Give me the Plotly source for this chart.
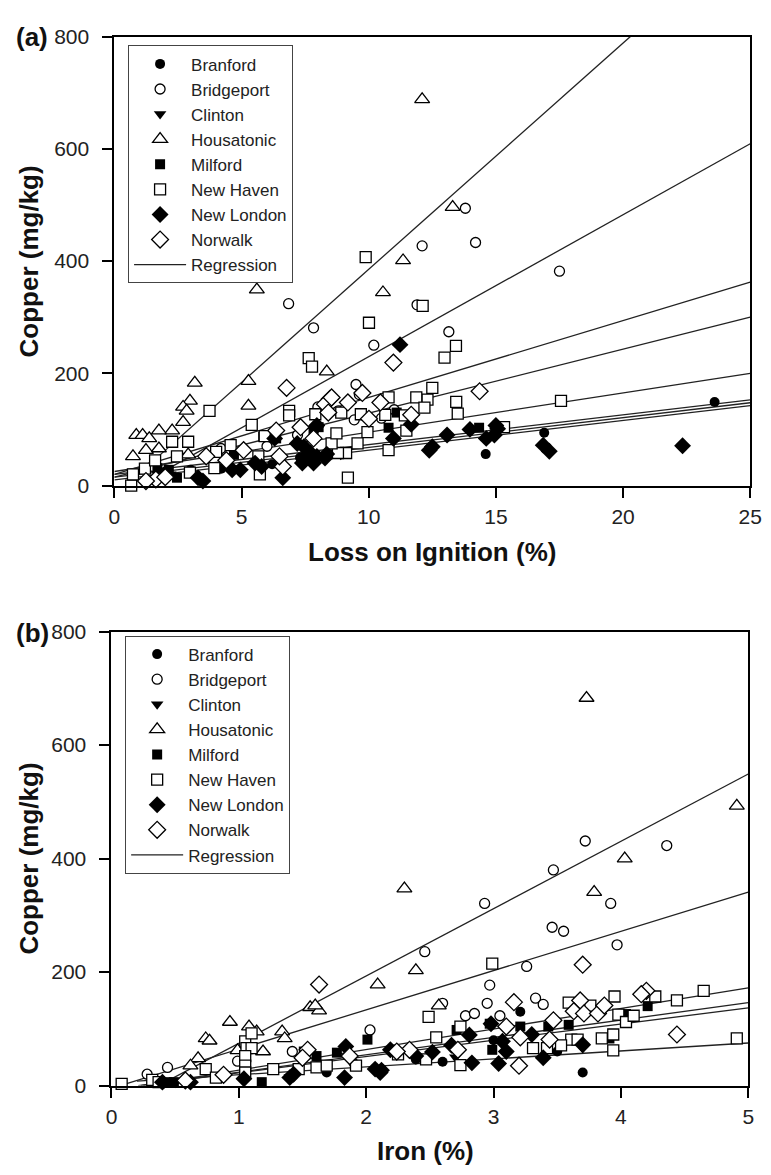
import plotly.graph_objects as go

W, H = 771, 1175

stations = ["Branford", "Bridgeport", "Clinton", "Housatonic", "Milford",
            "New Haven", "New London", "Norwalk"]

# ---- Panel (a): Loss on Ignition (%) vs Copper (mg/kg) ----
a_branford = [(23.6,149),(16.9,94),(14.6,56),(7.3,50),(4.2,30),(2.0,25),(5.7,45),(8.5,55),(3.0,28),(6.2,38)]
a_bridgeport = [(13.8,494),(12.1,427),(14.2,433),(17.5,382),(6.85,324),(7.83,281),(10.2,250),(13.15,274),
                (9.5,180),(8.8,133),(9.43,117),(9.63,162),(11.9,322),(4.19,66),(1.5,34),(8.0,140),(7.2,90),
                (6.0,70),(10.5,120),(11.0,135)]
a_clinton = [(11.0,82),(6.5,45),(2.2,20),(8.9,55)]
a_housatonic = [(12.1,688),(13.3,496),(11.35,401),(10.56,344),(5.6,349),(5.27,186),(5.27,142),(8.35,203),
                (3.16,183),(2.97,151),(2.7,140),(2.84,133),(2.7,113),(2.27,98),(1.75,98),(0.86,90),(1.11,90),
                (1.37,84),(1.24,63),(1.75,66),(0.73,52),(2.9,55)]
a_milford = [(10.78,103),(11.1,130),(14.34,103),(5.85,87),(6.36,84),(4.7,55),(1.69,31),(2.14,28),(2.46,14),
             (8.03,104),(7.83,93)]
a_newhaven = [(9.88,407),(10.01,290),(3.74,133),(7.64,227),(7.77,212),(6.87,133),(6.87,125),(5.4,108),(2.9,78),
              (2.27,78),(2.46,52),(4.57,72),(5.91,88),(5.66,52),(3.93,31),(2.97,23),(5.72,20),(0.66,0),(0.73,20),
              (9.18,14),(7.9,127),(8.92,130),(9.69,127),(9.95,95),(9.11,58),(8.79,58),(10.65,126),(10.78,63),
              (9.56,75),(8.54,75),(8.73,93),(12.12,320),(12.98,228),(13.43,249),(13.44,149),(13.5,128),(12.5,174),
              (12.31,153),(11.87,157),(12.19,139),(11.42,125),(11.48,98),(17.56,151),(15.32,104),(10.78,157),
              (1.2,30),(1.6,45),(4.0,60)]
a_newlondon = [(11.23,251),(12.38,63),(12.5,69),(13.08,90),(13.98,100),(14.62,84),(15.0,107),(14.94,90),
               (15.07,101),(16.86,72),(17.1,61),(22.34,71),(11.67,109),(10.97,84),(3.48,8),(3.29,14),(4.63,28),
               (4.95,28),(6.62,14),(5.53,40),(5.79,34),(7.45,46),(7.71,58),(7.96,52),(7.19,75),(7.45,69),
               (7.96,107),(6.3,84),(7.39,40),(7.83,40),(8.28,49),(8.35,56),(7.9,104)]
a_norwalk = [(10.97,219),(14.36,168),(11.67,126),(9.75,165),(8.47,154),(8.28,145),(9.18,148),(10.46,148),
             (10.01,119),(8.41,130),(6.77,174),(6.36,98),(7.32,104),(5.08,63),(3.61,52),(1.63,11),(1.24,8),
             (6.62,34),(6.49,52),(7.83,84),(8.54,157),(2.0,15),(4.4,45)]

# regression lines (intercept, slope, x start, x end)
a_regressions = [(-17.7, 40.3, 0.8, 25), (-23.5, 25.3, 1.5, 25), (20, 13.7, 0, 25), (15, 11.4, 0, 25),
                 (25, 7.0, 0, 25), (20, 5.3, 0, 25), (15, 5.3, 0, 25), (10, 5.3, 0, 25)]

# ---- Panel (b): Iron (%) vs Copper (mg/kg) ----
b_branford = [(3.7,23),(3.21,130),(2.39,46),(2.12,29),(1.69,23),(2.6,42),(1.9,40),(3.0,80),(3.5,60)]
b_bridgeport = [(3.47,380),(3.72,431),(4.36,423),(2.93,321),(3.92,321),(3.46,279),(3.55,272),(3.97,248),
                (2.46,236),(3.26,210),(2.97,177),(2.6,145),(2.95,145),(2.78,123),(2.85,127),(3.33,154),
                (3.39,143),(3.05,123),(1.42,60),(0.44,32),(0.28,20),(0.99,43),(2.03,98)]
b_clinton = [(3.7,66),(1.4,15),(2.7,50),(0.5,5)]
b_housatonic = [(3.73,683),(4.91,493),(4.03,400),(2.3,347),(3.79,341),(2.39,203),(2.09,178),(2.57,141),
                (0.93,112),(1.08,104),(1.14,95),(1.34,95),(1.36,83),(0.74,83),(0.77,79),(0.99,62),(1.19,60),
                (0.68,48),(0.62,35),(1.56,138),(1.63,132),(1.6,141)]
b_milford = [(4.21,140),(4.04,126),(3.91,83),(3.59,107),(3.43,104),(3.21,104),(2.97,109),(2.99,63),(2.71,98),
             (2.01,81),(1.61,52),(1.77,58),(0.44,6),(0.49,6),(1.18,6),(1.51,60)]
b_newhaven = [(2.99,215),(2.49,121),(4.65,167),(4.44,150),(4.27,157),(3.95,157),(3.59,146),(3.76,141),
              (3.98,125),(4.04,112),(4.1,123),(4.91,83),(3.94,90),(3.85,83),(3.94,62),(3.61,81),(3.66,81),
              (3.53,71),(3.31,66),(3.42,66),(2.74,36),(2.74,104),(2.55,85),(2.47,46),(2.25,55),(0.08,3),
              (0.32,10),(0.37,6),(0.74,29),(1.05,78),(1.06,66),(1.1,66),(1.05,52),(1.05,35),(1.05,23),
              (1.27,29),(1.61,32),(1.69,35),(1.92,35),(0.82,14),(1.1,92),(1.47,29)]
b_newlondon = [(2.12,27),(2.19,63),(2.39,52),(2.52,59),(2.67,71),(2.83,40),(2.81,89),(3.04,39),(3.1,60),
               (2.98,109),(3.3,90),(3.39,49),(3.7,72),(3.07,78),(2.07,29),(2.11,23),(1.84,69),(1.83,14),
               (1.4,14),(1.43,20),(1.04,12),(0.62,6),(0.40,6)]
b_norwalk = [(3.7,213),(4.2,167),(4.16,161),(4.44,90),(3.68,150),(3.63,131),(3.71,127),(3.82,127),(3.87,141),
             (3.16,147),(3.21,85),(3.2,35),(3.1,104),(3.44,81),(3.47,115),(2.34,63),(2.24,60),(2.72,63),
             (1.63,178),(1.54,63),(1.5,49),(0.88,19),(0.58,9),(1.87,52)]

b_regressions = [(-44, 118.6, 0.37, 5), (-5, 69.2, 0.1, 5), (-9, 36.2, 0.25, 5), (-7, 30.6, 0.23, 5),
                 (-6, 28.6, 0.21, 5), (5, 14.0, 0.2, 5)]

a_xticks = [0, 5, 10, 15, 20, 25]
b_xticks = [0, 1, 2, 3, 4, 5]
yticks = [0, 200, 400, 600, 800]

# ---- styling ----
styles = {
    "Branford":   dict(symbol="circle", color="black", size=10, lw=0),
    "Bridgeport": dict(symbol="circle", color="white", size=10, lw=1.3),
    "Clinton":    dict(symbol="triangle-down", color="black", size=11, lw=0),
    "Housatonic": dict(symbol="triangle-up", color="white", size=13, lw=1.3),
    "Milford":    dict(symbol="square", color="black", size=10, lw=0),
    "New Haven":  dict(symbol="square", color="white", size=11, lw=1.3),
    "New London": dict(symbol="diamond", color="black", size=13, lw=0),
    "Norwalk":    dict(symbol="diamond", color="white", size=13, lw=1.3),
}
FONT = "Liberation Sans, Arial, sans-serif"

fig = go.Figure()


def add_panel(data, regs, xa, ya, legend):
    for k, (b0, m, x0, x1) in enumerate(regs):
        # clip the line end at the top of the axis (y = 800)
        xe = min(x1, (800 - b0) / m)
        xs = [x0, xe]
        fig.add_trace(go.Scatter(
            x=xs, y=[b0 + m * v for v in xs], mode="lines",
            line=dict(color="#222", width=1.3), name="Regression",
            showlegend=(k == 0), legend=legend, legendrank=20,
            xaxis=xa, yaxis=ya, hoverinfo="skip"))
    for i, (name, pts) in enumerate(zip(stations, data)):
        s = styles[name]
        fig.add_trace(go.Scatter(
            x=[p[0] for p in pts], y=[p[1] for p in pts], mode="markers", name=name,
            marker=dict(symbol=s["symbol"], color=s["color"], size=s["size"],
                        line=dict(color="black", width=s["lw"])),
            legend=legend, legendrank=i + 1, cliponaxis=False, xaxis=xa, yaxis=ya))


add_panel([a_branford, a_bridgeport, a_clinton, a_housatonic, a_milford, a_newhaven, a_newlondon, a_norwalk],
          a_regressions, "x", "y", "legend")
add_panel([b_branford, b_bridgeport, b_clinton, b_housatonic, b_milford, b_newhaven, b_newlondon, b_norwalk],
          b_regressions, "x2", "y2", "legend2")

axis_common = dict(showline=True, linecolor="black", linewidth=2, mirror=True, ticks="outside",
                   ticklen=10, tickwidth=2, tickcolor="black", showgrid=False, zeroline=False,
                   tickfont=dict(family=FONT, size=21, color="#222"))
xax = dict(axis_common, ticklabelstandoff=1)
yax = dict(axis_common, ticklabelstandoff=9)

leg_common = dict(xanchor="left", yanchor="top", bgcolor="white", bordercolor="#444", borderwidth=1,
                  itemwidth=52, tracegroupgap=0, entrywidth=172,
                  font=dict(family=FONT, size=17, color="#222"))

fig.update_layout(
    width=W, height=H, margin=dict(l=0, r=0, t=0, b=0),
    paper_bgcolor="white", plot_bgcolor="white",
    xaxis=dict(domain=[111 / W, 762 / W], range=[0, 25], tickvals=a_xticks, anchor="y", **xax),
    yaxis=dict(domain=[1 - 483 / H, 1 - 25 / H], range=[0, 800], tickvals=yticks, anchor="x", **yax),
    xaxis2=dict(domain=[108 / W, 760 / W], range=[0, 5], tickvals=b_xticks, anchor="y2", **xax),
    yaxis2=dict(domain=[1 - 1095 / H, 1 - 632 / H], range=[0, 800], tickvals=yticks, anchor="x2", **yax),
    legend=dict(x=125 / W, y=1 - 34 / H, **leg_common),
    legend2=dict(x=122 / W, y=1 - 636 / H, **leg_common),
    showlegend=True,
)

title_font = dict(family=FONT, size=26, color="#111")
ann = [
    dict(text="<b>(a)</b>", x=27 / W, y=1 - 25 / H),
    dict(text="<b>(b)</b>", x=27 / W, y=1 - 633 / H),
    dict(text="<b>Loss on Ignition (%)</b>", x=436 / W, y=1 - 551 / H),
    dict(text="<b>Iron (%)</b>", x=430 / W, y=1 - 1162 / H),
    dict(text="<b>Copper (mg/kg)</b>", x=24 / W, y=1 - 254 / H, textangle=-90),
    dict(text="<b>Copper (mg/kg)</b>", x=24 / W, y=1 - 863 / H, textangle=-90),
]
for a in ann:
    fig.add_annotation(xref="paper", yref="paper", showarrow=False, xanchor="center", yanchor="middle",
                       font=title_font, **a)

fig.write_html("out.html")
